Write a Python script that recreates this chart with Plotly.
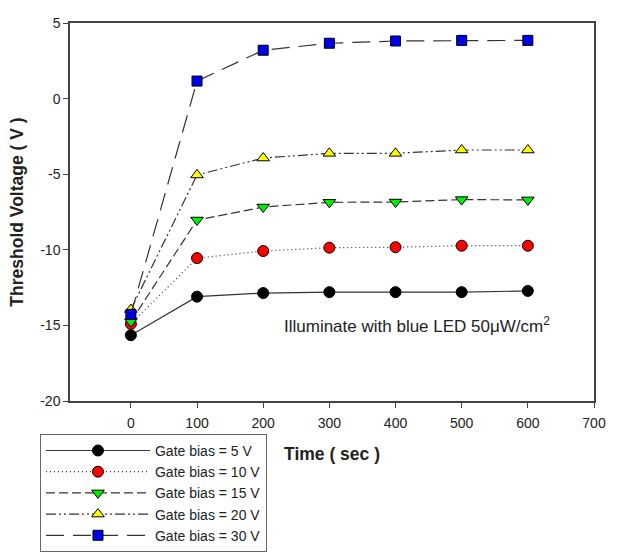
import plotly.graph_objects as go

time_s = [0, 100, 200, 300, 400, 500, 600]
vth_5v = [-15.65, -13.1, -12.86, -12.8, -12.8, -12.8, -12.72]
vth_10v = [-14.9, -10.55, -10.08, -9.86, -9.83, -9.73, -9.73]
vth_15v = [-14.75, -8.03, -7.17, -6.86, -6.84, -6.68, -6.7]
vth_20v = [-13.95, -5.05, -3.93, -3.62, -3.62, -3.40, -3.40]
vth_30v = [-14.27, 1.16, 3.2, 3.66, 3.81, 3.85, 3.85]

x_ticks = [0, 100, 200, 300, 400, 500, 600, 700]
y_ticks = [-20, -15, -10, -5, 0, 5]
y_ticktext = ["-20", "-15", "-10", "-5", "0", "5"]

labels = ["Gate bias = 5 V", "Gate bias = 10 V", "Gate bias = 15 V",
          "Gate bias = 20 V", "Gate bias = 30 V"]
series = [vth_5v, vth_10v, vth_15v, vth_20v, vth_30v]
styles = [
    dict(dash="solid", symbol="circle", color="black"),
    dict(dash="1px,3px", symbol="circle", color="red"),
    dict(dash="9px,4px", symbol="triangle-down", color="#00ee00"),
    dict(dash="10px,3px,2px,3px,2px,3px", symbol="triangle-up", color="yellow"),
    dict(dash="18px,9px", symbol="square", color="#0000ee"),
]

FONT = "Arial"

fig = go.Figure()
for lab, ys, st in zip(labels, series, styles):
    fig.add_trace(go.Scatter(
        x=time_s, y=ys, name=lab, mode="lines+markers",
        line=dict(color="#333333", width=1.2, dash=st["dash"]),
        marker=dict(symbol=st["symbol"], size=11 if st["symbol"] != "square" else 10,
                    color=st["color"], line=dict(color="black", width=1)),
    ))

fig.add_annotation(
    x=0.405, y=0.2, xref="paper", yref="paper", xanchor="left", yanchor="middle",
    text="Illuminate with blue LED 50\u03bcW/cm<sup>2</sup>", showarrow=False,
    font=dict(size=17, color="#222222", family=FONT),
)

axis_common = dict(
    showline=True, linecolor="#444444", linewidth=1.5, mirror=True,
    ticks="outside", ticklen=5, tickcolor="#444444", tickwidth=1.2,
    showgrid=False, zeroline=False,
    tickfont=dict(size=14, color="#222222", family=FONT),
)

fig.update_layout(
    width=632, height=553,
    margin=dict(l=70, r=38, t=23, b=152, autoexpand=False),
    plot_bgcolor="white", paper_bgcolor="white",
    font=dict(family=FONT, color="#222222"),
    xaxis=dict(range=[-92, 700], tickvals=x_ticks, ticklabelstandoff=3,
               title=dict(text="<b>Time ( sec )</b>", font=dict(size=17.5, family=FONT),
                          standoff=18),
               **axis_common),
    yaxis=dict(range=[-20, 5], tickvals=y_ticks, ticktext=y_ticktext, ticklabelstandoff=0,
               title=dict(text="<b>Threshold Voltage ( V )</b>", font=dict(size=17.5, family=FONT),
                          standoff=12),
               **axis_common),
    showlegend=True,
    legend=dict(x=-0.0573, y=-0.087, xanchor="left", yanchor="top",
                bordercolor="#666666", borderwidth=1, bgcolor="white",
                font=dict(size=14, color="#222222", family=FONT), itemwidth=104,
                tracegroupgap=0),
)

fig.write_html("out.html")
